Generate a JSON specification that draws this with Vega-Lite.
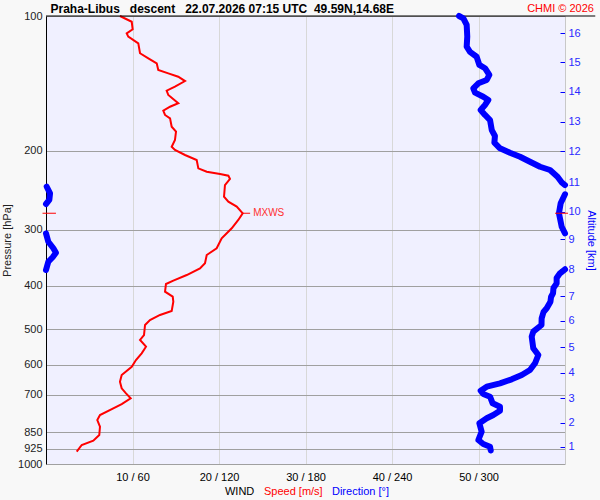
{
"$schema": "https://vega.github.io/schema/vega-lite/v6.json",
"width": 519, "height": 448,
"autosize": {"type": "none"},
"padding": {"left": 46, "top": 16, "right": 35, "bottom": 36},
"background": "#f8f8f8",
"config": {"view": {"fill": "#f0f0ff", "stroke": null}, "font": "Liberation Sans"},
"datasets": {
"speed": [
{"p":100,"s":8.55},{"p":103.0,"s":9.91},{"p":107.1,"s":10.02},{"p":109.3,"s":9.33},{"p":111.2,"s":9.51},{"p":115.1,"s":10.67},{"p":121.1,"s":10.87},{"p":124.3,"s":11.83},{"p":127.5,"s":12.80},{"p":132.0,"s":12.98},{"p":134.3,"s":14.14},{"p":136.6,"s":15.29},{"p":139.7,"s":16.07},{"p":143.8,"s":14.91},{"p":146.8,"s":13.95},{"p":150.1,"s":14.14},{"p":156.6,"s":15.29},{"p":159.4,"s":14.34},{"p":162.7,"s":13.56},{"p":166.3,"s":13.76},{"p":169.2,"s":14.34},{"p":176.7,"s":14.53},{"p":181.2,"s":15.03},{"p":189.2,"s":14.91},{"p":195.8,"s":14.53},{"p":199.1,"s":14.91},{"p":204.3,"s":16.07},{"p":209.6,"s":17.42},{"p":218.8,"s":17.61},{"p":222.6,"s":18.58},{"p":225.3,"s":20.12},{"p":227.2,"s":21.08},{"p":231.1,"s":21.27},{"p":238.4,"s":20.69},{"p":253.1,"s":20.58},{"p":259.7,"s":21.08},{"p":266.4,"s":22.05},{"p":275.6,"s":22.74},{"p":285.3,"s":22.23},{"p":297.8,"s":21.47},{"p":313.5,"s":20.31},{"p":330.0,"s":19.73},{"p":341.6,"s":18.58},{"p":356.5,"s":18.38},{"p":365.8,"s":17.80},{"p":378.6,"s":16.27},{"p":389.8,"s":14.72},{"p":396.5,"s":13.87},{"p":412.5,"s":13.76},{"p":423.2,"s":14.65},{"p":434.2,"s":14.72},{"p":455.5,"s":14.53},{"p":464.9,"s":13.18},{"p":477.1,"s":12.02},{"p":489.5,"s":11.45},{"p":515.3,"s":11.33},{"p":528.7,"s":10.87},{"p":547.2,"s":11.56},{"p":566.1,"s":11.06},{"p":585.9,"s":10.40},{"p":606.5,"s":9.91},{"p":633.0,"s":8.75},{"p":655.1,"s":8.55},{"p":677.7,"s":8.75},{"p":695.4,"s":9.25},{"p":713.5,"s":9.79},{"p":734.7,"s":8.75},{"p":751.1,"s":7.78},{"p":777.4,"s":6.24},{"p":797.7,"s":5.93},{"p":825.6,"s":6.24},{"p":861.6,"s":6.16},{"p":887.2,"s":5.47},{"p":907.0,"s":4.13},{"p":938.8,"s":3.55}
],
"dir": [
{"seg":"A","p":100,"d":286.5},{"seg":"A","p":101.2,"d":289.5},{"seg":"A","p":104.7,"d":291.8},{"seg":"A","p":111.2,"d":292.2},{"seg":"A","p":117.1,"d":291.8},{"seg":"A","p":120.2,"d":294.1},{"seg":"A","p":123.3,"d":298.7},{"seg":"A","p":128.6,"d":300.6},{"seg":"A","p":130.8,"d":304.5},{"seg":"A","p":135.4,"d":307.5},{"seg":"A","p":138.9,"d":305.7},{"seg":"A","p":141.3,"d":299.9},{"seg":"A","p":145.0,"d":296.4},{"seg":"A","p":148.3,"d":297.6},{"seg":"A","p":151.4,"d":303.3},{"seg":"A","p":154.0,"d":306.8},{"seg":"A","p":158.0,"d":304.5},{"seg":"A","p":162.1,"d":301.5},{"seg":"A","p":166.3,"d":304.5},{"seg":"A","p":170.7,"d":308.0},{"seg":"A","p":179.7,"d":309.2},{"seg":"A","p":185.3,"d":311.4},{"seg":"A","p":191.8,"d":311.0},{"seg":"A","p":197.4,"d":314.9},{"seg":"A","p":201.9,"d":321.8},{"seg":"A","p":206.1,"d":328.8},{"seg":"A","p":211.5,"d":335.7},{"seg":"A","p":217.0,"d":342.7},{"seg":"A","p":220.7,"d":349.6},{"seg":"A","p":228.4,"d":354.8},{"seg":"A","p":235.6,"d":357.9},{"seg":"A","p":238.4,"d":360},
{"seg":"B","p":240.5,"d":0.5},{"seg":"B","p":248.8,"d":2.8},{"seg":"B","p":257.4,"d":2.3},{"seg":"B","p":262.8,"d":0},
{"seg":"C","p":250.0,"d":360},{"seg":"C","p":261.8,"d":357.0},{"seg":"C","p":275.6,"d":355.8},{"seg":"C","p":295.4,"d":357.7},{"seg":"C","p":305.6,"d":360},
{"seg":"D","p":305.6,"d":0},{"seg":"D","p":319.0,"d":1.6},{"seg":"D","p":330.0,"d":5.1},{"seg":"D","p":337.6,"d":6.9},{"seg":"D","p":345.6,"d":4.6},{"seg":"D","p":353.6,"d":1.6},{"seg":"D","p":369.0,"d":0},
{"seg":"E","p":367.6,"d":360},{"seg":"E","p":375.3,"d":356.5},{"seg":"E","p":384.5,"d":354.2},{"seg":"E","p":395.1,"d":354.2},{"seg":"E","p":404.8,"d":352.0},{"seg":"E","p":415.9,"d":351.7},{"seg":"E","p":423.9,"d":350.3},{"seg":"E","p":434.2,"d":349.9},{"seg":"E","p":449.2,"d":347.3},{"seg":"E","p":457.8,"d":345.1},{"seg":"E","p":472.9,"d":343.8},{"seg":"E","p":489.5,"d":343.7},{"seg":"E","p":506.6,"d":338.0},{"seg":"E","p":519.8,"d":336.9},{"seg":"E","p":551.7,"d":338.0},{"seg":"E","p":571.1,"d":341.5},{"seg":"E","p":596.0,"d":339.2},{"seg":"E","p":616.9,"d":335.7},{"seg":"E","p":633.0,"d":330.0},{"seg":"E","p":647.1,"d":323.0},{"seg":"E","p":660.5,"d":314.9},{"seg":"E","p":672.2,"d":305.7},{"seg":"E","p":686.1,"d":301.5},{"seg":"E","p":697.9,"d":303.3},{"seg":"E","p":707.6,"d":308.0},{"seg":"E","p":732.0,"d":309.8},{"seg":"E","p":745.0,"d":314.9},{"seg":"E","p":760.5,"d":314.9},{"seg":"E","p":777.4,"d":310.3},{"seg":"E","p":790.7,"d":305.7},{"seg":"E","p":811.3,"d":300.6},{"seg":"E","p":847.1,"d":302.2},{"seg":"E","p":884.0,"d":299.9},{"seg":"E","p":902.4,"d":303.3},{"seg":"E","p":915.0,"d":308.0},{"seg":"E","p":933.0,"d":308.5}
],
"mxws": [{"p": 275.6, "s": 22.7, "label": "MXWS"}],
"one": [{}]
},
"layer": [
{
"layer": [
{"data": {"name": "speed"},
 "mark": {"type": "line", "color": "#ff0000", "strokeWidth": 2},
 "encoding": {
  "x": {"field": "s", "type": "quantitative", "scale": {"domain": [0, 60], "nice": false, "zero": false},
        "axis": {"title": null, "values": [10, 20, 30, 40, 50], "labelExpr": "datum.value + ' / ' + datum.value * 6", "grid": true, "gridColor": "#d8d8d8", "gridOpacity": 1, "ticks": false, "domain": false, "labelFontSize": 11, "labelColor": "#000000", "labelPadding": 7}},
  "y": {"field": "p", "type": "quantitative", "scale": {"type": "log", "domain": [100, 1000], "reverse": true, "nice": false},
        "axis": {"title": "Pressure [hPa]", "values": [100, 200, 300, 400, 500, 600, 700, 850, 925, 1000], "format": "d", "grid": true, "gridColor": "#a0a0a0", "gridOpacity": 1, "ticks": false, "domainColor": "#000000", "labelColor": "#222222", "labelFontSize": 11, "labelPadding": 4, "titleFontSize": 11, "titleFontWeight": "normal", "titleColor": "#222222", "titlePadding": 5}},
  "order": {"field": "p"}
 }},
{"data": {"name": "one"},
 "mark": {"type": "rule", "color": "#000000", "strokeWidth": 1},
 "encoding": {
  "x": {"datum": 0, "type": "quantitative", "scale": {"domain": [0, 60], "nice": false, "zero": false}},
  "x2": {"datum": 63.5},
  "y": {"datum": 100, "type": "quantitative", "scale": {"type": "log", "domain": [100, 1000], "reverse": true, "nice": false}}
 }},
{"data": {"name": "one"},
 "mark": {"type": "text", "text": "Praha-Libus\u00a0\u00a0\u00a0descent\u00a0\u00a0\u00a022.07.2026 07:15 UTC\u00a0\u00a049.59N,14.68E", "color": "#000000", "fontSize": 12, "fontWeight": "bold", "align": "left", "baseline": "middle"},
 "encoding": {
  "x": {"datum": 0.52, "type": "quantitative", "scale": {"domain": [0, 60], "nice": false, "zero": false}},
  "y": {"datum": 96.5, "type": "quantitative", "scale": {"type": "log", "domain": [100, 1000], "reverse": true, "nice": false}}
 }},
{"data": {"name": "one"},
 "mark": {"type": "text", "text": "WIND", "color": "#000000", "fontSize": 11, "align": "left", "baseline": "middle"},
 "encoding": {
  "x": {"datum": 20.69, "type": "quantitative", "scale": {"domain": [0, 60], "nice": false, "zero": false}},
  "y": {"datum": 1152, "type": "quantitative", "scale": {"type": "log", "domain": [100, 1000], "reverse": true, "nice": false}}
 }},
{"data": {"name": "one"},
 "mark": {"type": "text", "text": "Speed [m/s]", "color": "#ff0000", "fontSize": 11, "align": "left", "baseline": "middle"},
 "encoding": {
  "x": {"datum": 25.2, "type": "quantitative", "scale": {"domain": [0, 60], "nice": false, "zero": false}},
  "y": {"datum": 1152, "type": "quantitative", "scale": {"type": "log", "domain": [100, 1000], "reverse": true, "nice": false}}
 }},
{"data": {"name": "one"},
 "mark": {"type": "text", "text": "Direction [°]", "color": "#0000ff", "fontSize": 11, "align": "left", "baseline": "middle"},
 "encoding": {
  "x": {"datum": 33.06, "type": "quantitative", "scale": {"domain": [0, 60], "nice": false, "zero": false}},
  "y": {"datum": 1152, "type": "quantitative", "scale": {"type": "log", "domain": [100, 1000], "reverse": true, "nice": false}}
 }},
{"data": {"name": "one"},
 "mark": {"type": "text", "text": "CHMI © 2026", "color": "#ff0000", "fontSize": 11, "align": "right", "baseline": "middle"},
 "encoding": {
  "x": {"datum": 63.35, "type": "quantitative", "scale": {"domain": [0, 60], "nice": false, "zero": false}},
  "y": {"datum": 96.5, "type": "quantitative", "scale": {"type": "log", "domain": [100, 1000], "reverse": true, "nice": false}}
 }}
]
},
{"data": {"name": "dir"},
 "mark": {"type": "line", "color": "#0000ff", "strokeWidth": 6, "strokeCap": "round", "strokeJoin": "round"},
 "encoding": {
  "x": {"field": "d", "type": "quantitative", "scale": {"domain": [0, 360], "nice": false, "zero": false}, "axis": null},
  "y": {"field": "p", "type": "quantitative", "scale": {"type": "log", "domain": [100, 1000], "reverse": true, "nice": false}, "axis": null},
  "detail": {"field": "seg"},
  "order": {"field": "p"}
 }},
{"data": {"values": [{"p": 100}, {"p": 1000}]},
 "mark": {"type": "point", "opacity": 0},
 "encoding": {
  "y": {"field": "p", "type": "quantitative", "scale": {"type": "log", "domain": [100, 1000], "reverse": true, "nice": false},
        "axis": {"orient": "right", "title": "Altitude [km]", "values": [109.3, 126.9, 147.6, 172.2, 200.2, 235.0, 273.8, 315.1, 367.6, 421.7, 479.5, 549.1, 625.6, 713.6, 808.6, 915.0],
                 "labelExpr": "'' + (16 - indexof([109.3, 126.9, 147.6, 172.2, 200.2, 235.0, 273.8, 315.1, 367.6, 421.7, 479.5, 549.1, 625.6, 713.6, 808.6, 915.0], datum.value))",
                 "grid": false, "domainColor": "#c8c8c8", "tickColor": "#0000ff", "tickSize": -5, "labelPadding": 8, "labelColor": "#2a2aff", "labelFontSize": 11, "labelBaseline": "middle",
                 "titleColor": "#0000ff", "titleFontSize": 11, "titleFontWeight": "normal", "titlePadding": 5}}
 }},
{
"layer": [
{"data": {"name": "mxws"},
 "mark": {"type": "rule", "color": "#ff0000", "strokeWidth": 1},
 "encoding": {
  "x": {"field": "s", "type": "quantitative", "scale": {"domain": [0, 60], "nice": false, "zero": false}, "axis": null},
  "x2": {"datum": 23.6},
  "y": {"field": "p", "type": "quantitative", "scale": {"type": "log", "domain": [100, 1000], "reverse": true, "nice": false}, "axis": null}
 }},
{"data": {"name": "mxws"},
 "mark": {"type": "rule", "color": "#ff0000", "strokeWidth": 1},
 "encoding": {
  "x": {"datum": -0.4, "type": "quantitative", "scale": {"domain": [0, 60], "nice": false, "zero": false}, "axis": null},
  "x2": {"datum": 1.15},
  "y": {"field": "p", "type": "quantitative", "scale": {"type": "log", "domain": [100, 1000], "reverse": true, "nice": false}, "axis": null}
 }},
{"data": {"name": "mxws"},
 "mark": {"type": "rule", "color": "#ff0000", "strokeWidth": 1},
 "encoding": {
  "x": {"datum": 58.85, "type": "quantitative", "scale": {"domain": [0, 60], "nice": false, "zero": false}, "axis": null},
  "x2": {"datum": 60.35},
  "y": {"field": "p", "type": "quantitative", "scale": {"type": "log", "domain": [100, 1000], "reverse": true, "nice": false}, "axis": null}
 }},
{"data": {"name": "mxws"},
 "mark": {"type": "text", "color": "#ff3030", "fontSize": 10, "align": "left", "baseline": "middle"},
 "encoding": {
  "text": {"field": "label"},
  "x": {"datum": 23.95, "type": "quantitative", "scale": {"domain": [0, 60], "nice": false, "zero": false}, "axis": null},
  "y": {"field": "p", "type": "quantitative", "scale": {"type": "log", "domain": [100, 1000], "reverse": true, "nice": false}, "axis": null}
 }}
]
}
],
"resolve": {"scale": {"x": "independent", "y": "independent"}}
}
